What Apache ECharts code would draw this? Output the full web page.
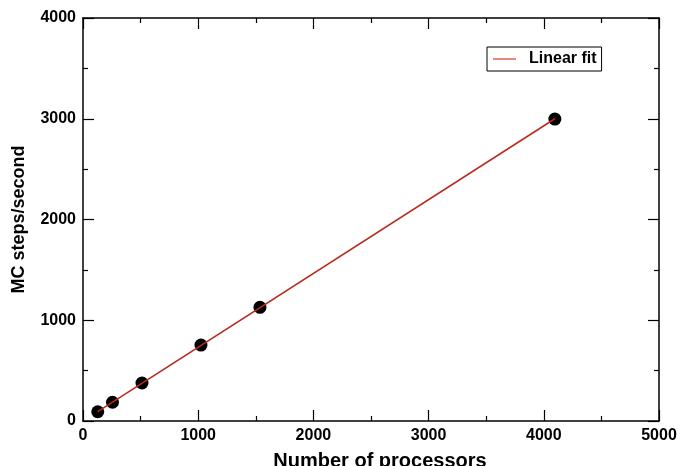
<!DOCTYPE html>
<html>
<head>
<meta charset="utf-8">
<script src="https://cdn.jsdelivr.net/npm/echarts@6/dist/echarts.min.js"></script>
<style>
html, body { margin: 0; padding: 0; background: #fff; }
#chart { width: 678px; height: 466px; }
</style>
</head>
<body>
<div id="chart"></div>
<script>
// measured points
var procs = [128, 256, 512, 1024, 1536, 4096];
var steps = [92, 186, 377, 754, 1128, 2997];
// linear fit end points
var fitX = [128, 4096];
var fitY = [94, 3000];

var chart = echarts.init(document.getElementById('chart'));

var font = 'Liberation Sans, Arial, sans-serif';
var axisCommon = {
    axisLine: { show: true, onZero: false, lineStyle: { color: '#000', width: 1.5 } },
    axisTick: { show: true, inside: true, length: 11, lineStyle: { color: '#000', width: 1.2 } },
    minorTick: { show: true, splitNumber: 2, length: 5, lineStyle: { color: '#000', width: 1.2 } },
    splitLine: { show: false }
};

function axis(extra) {
    return Object.assign({}, JSON.parse(JSON.stringify(axisCommon)), extra);
}

var tickLabel = {
    fontFamily: font, fontWeight: 'bold', fontSize: 16, color: '#000', margin: 7,
    formatter: function (v) { return String(v); }
};

var option = {
    animation: false,
    backgroundColor: '#fff',
    grid: { left: 83, right: 19, top: 18, bottom: 45, outerBoundsMode: 'none', containLabel: false },
    legend: {
        data: ['Linear fit'],
        left: 487,
        top: 47,
        orient: 'vertical',
        icon: 'rect',
        itemWidth: 23,
        itemHeight: 1.5,
        itemGap: 0,
        padding: [4, 5, 4, 6],
        borderColor: '#000',
        borderWidth: 1,
        backgroundColor: '#fff',
        textStyle: { fontFamily: font, fontWeight: 'bold', fontSize: 16, color: '#000', padding: [0, 0, 0, 8] }
    },
    xAxis: [
        axis({
            type: 'value', min: 0, max: 5000, interval: 1000, position: 'bottom',
            axisLabel: tickLabel,
            name: 'Number of processors', nameLocation: 'middle', nameGap: 30,
            nameTextStyle: { fontFamily: font, fontWeight: 'bold', fontSize: 20, color: '#000', padding: [0, 0, 0, 18] }
        }),
        axis({
            type: 'value', min: 0, max: 5000, interval: 1000, position: 'top',
            axisLabel: { show: false }
        })
    ],
    yAxis: [
        axis({
            type: 'value', min: 0, max: 4000, interval: 1000, position: 'left',
            axisLabel: tickLabel,
            name: 'MC steps/second', nameLocation: 'middle', nameGap: 55,
            nameTextStyle: { fontFamily: font, fontWeight: 'bold', fontSize: 18, color: '#000' }
        }),
        axis({
            type: 'value', min: 0, max: 4000, interval: 1000, position: 'right',
            axisLabel: { show: false }
        })
    ],
    series: [
        {
            name: 'Linear fit',
            type: 'line',
            data: fitX.map(function (x, i) { return [x, fitY[i]]; }),
            showSymbol: false,
            symbol: 'none',
            lineStyle: { color: '#b8281c', width: 1.5 },
            itemStyle: { color: '#e06050' },
            z: 3
        },
        {
            name: 'data',
            type: 'scatter',
            data: procs.map(function (x, i) { return [x, steps[i]]; }),
            symbolSize: 13,
            itemStyle: { color: '#000', opacity: 1 },
            z: 2
        }
    ]
};

chart.setOption(option);
</script>
</body>
</html>
